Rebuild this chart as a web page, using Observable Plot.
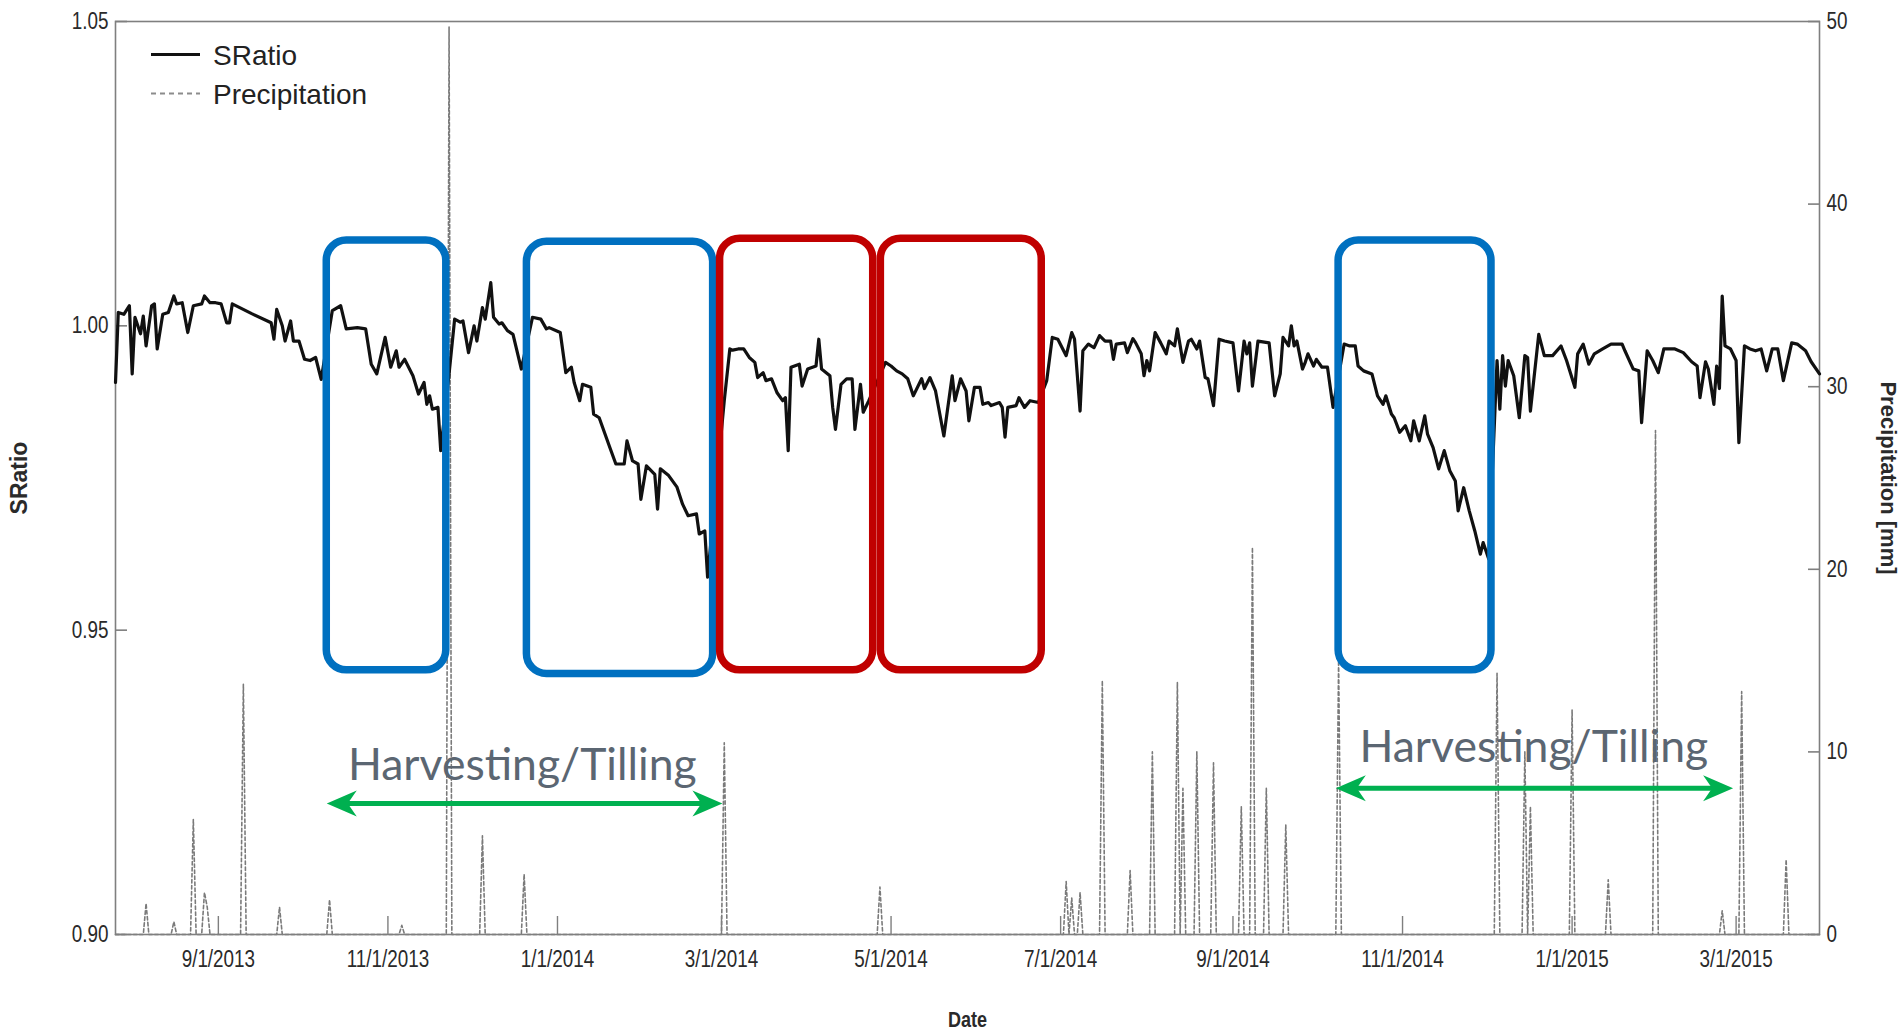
<!DOCTYPE html>
<html><head><meta charset="utf-8">
<script src="https://cdn.jsdelivr.net/npm/d3@7"></script>
<script src="https://cdn.jsdelivr.net/npm/@observablehq/plot@0.6"></script>
<style>
html,body{margin:0;padding:0;background:#fff;}
#chart{width:1903px;height:1031px;}
</style></head><body><div id="chart"></div>
<script>
// ---------- data ----------
const xStart = "2013-07-26", xEnd = "2015-03-31";
const sratioDates = [
"2013-07-26","2013-07-27","2013-07-29","2013-07-31","2013-08-01","2013-08-02","2013-08-04","2013-08-05","2013-08-06","2013-08-08",
"2013-08-09","2013-08-10","2013-08-12","2013-08-14","2013-08-16","2013-08-17","2013-08-19","2013-08-21","2013-08-23","2013-08-26",
"2013-08-27","2013-08-29","2013-08-31","2013-09-02","2013-09-04","2013-09-05","2013-09-06","2013-09-13","2013-09-20","2013-09-21",
"2013-09-22","2013-09-24","2013-09-25","2013-09-27","2013-09-28","2013-09-30","2013-10-02","2013-10-04","2013-10-06","2013-10-08",
"2013-10-12","2013-10-15","2013-10-17","2013-10-21","2013-10-24","2013-10-26","2013-10-28","2013-10-31","2013-11-02","2013-11-04",
"2013-11-05","2013-11-07","2013-11-10","2013-11-12","2013-11-14","2013-11-15","2013-11-16","2013-11-17","2013-11-19","2013-11-20",
"2013-11-23","2013-11-25","2013-11-27","2013-11-28","2013-11-30","2013-12-02","2013-12-03","2013-12-05","2013-12-06","2013-12-08",
"2013-12-09","2013-12-11","2013-12-12","2013-12-14","2013-12-16","2013-12-19","2013-12-23","2013-12-26","2013-12-28","2013-12-29",
"2014-01-02","2014-01-04","2014-01-06","2014-01-07","2014-01-09","2014-01-10","2014-01-13","2014-01-14","2014-01-16","2014-01-20",
"2014-01-22","2014-01-25","2014-01-26","2014-01-28","2014-01-30","2014-01-31","2014-02-02","2014-02-05","2014-02-06","2014-02-07",
"2014-02-10","2014-02-13","2014-02-15","2014-02-17","2014-02-20","2014-02-21","2014-02-23","2014-02-24","2014-03-02","2014-03-04",
"2014-03-05","2014-03-07","2014-03-09","2014-03-11","2014-03-13","2014-03-14","2014-03-16","2014-03-17","2014-03-19","2014-03-21",
"2014-03-23","2014-03-24","2014-03-25","2014-03-26","2014-03-29","2014-03-30","2014-04-01","2014-04-04","2014-04-05","2014-04-06",
"2014-04-09","2014-04-10","2014-04-11","2014-04-13","2014-04-15","2014-04-17","2014-04-18","2014-04-20","2014-04-21","2014-04-23",
"2014-04-29","2014-05-01","2014-05-03","2014-05-05","2014-05-07","2014-05-09","2014-05-12","2014-05-13","2014-05-15","2014-05-17",
"2014-05-20","2014-05-23","2014-05-24","2014-05-26","2014-05-28","2014-05-29","2014-05-31","2014-06-02","2014-06-03","2014-06-05",
"2014-06-06","2014-06-09","2014-06-10","2014-06-11","2014-06-12","2014-06-15","2014-06-16","2014-06-18","2014-06-20","2014-06-23",
"2014-06-26","2014-06-28","2014-06-30","2014-07-03","2014-07-05","2014-07-06","2014-07-08","2014-07-09","2014-07-11","2014-07-13",
"2014-07-15","2014-07-17","2014-07-19","2014-07-20","2014-07-21","2014-07-24","2014-07-25","2014-07-27","2014-07-28","2014-07-30",
"2014-07-31","2014-08-01","2014-08-02","2014-08-04","2014-08-06","2014-08-08","2014-08-09","2014-08-11","2014-08-12","2014-08-14",
"2014-08-16","2014-08-17","2014-08-19","2014-08-20","2014-08-22","2014-08-23","2014-08-25","2014-08-27","2014-08-29","2014-09-01",
"2014-09-03","2014-09-05","2014-09-06","2014-09-07","2014-09-08","2014-09-10","2014-09-14","2014-09-16","2014-09-18","2014-09-19",
"2014-09-21","2014-09-22","2014-09-23","2014-09-24","2014-09-26","2014-09-27","2014-09-28","2014-09-30","2014-10-01","2014-10-03",
"2014-10-05","2014-10-07","2014-10-11","2014-10-13","2014-10-15","2014-10-16","2014-10-18","2014-10-21","2014-10-23","2014-10-25",
"2014-10-26","2014-10-28","2014-10-29","2014-10-31","2014-11-02","2014-11-04","2014-11-05","2014-11-07","2014-11-09","2014-11-10",
"2014-11-12","2014-11-14","2014-11-16","2014-11-18","2014-11-20","2014-11-21","2014-11-23","2014-11-25","2014-11-27","2014-11-29",
"2014-11-30","2014-12-02","2014-12-05","2014-12-06","2014-12-07","2014-12-08","2014-12-09","2014-12-11","2014-12-13","2014-12-15",
"2014-12-16","2014-12-17","2014-12-20","2014-12-22","2014-12-25","2014-12-28","2014-12-30","2015-01-02","2015-01-03","2015-01-05",
"2015-01-07","2015-01-09","2015-01-12","2015-01-15","2015-01-19","2015-01-20","2015-01-23","2015-01-25","2015-01-26","2015-01-28",
"2015-01-30","2015-02-01","2015-02-03","2015-02-07","2015-02-10","2015-02-13","2015-02-15","2015-02-16","2015-02-18","2015-02-19",
"2015-02-21","2015-02-22","2015-02-23","2015-02-24","2015-02-25","2015-02-27","2015-03-01","2015-03-02","2015-03-04","2015-03-06",
"2015-03-08","2015-03-10","2015-03-12","2015-03-14","2015-03-16","2015-03-18","2015-03-21","2015-03-23","2015-03-26","2015-03-28",
"2015-03-31"];
const sratioValues = [
0.9907,1.0022,1.0019,1.0033,0.9921,1.0014,0.9987,1.0016,0.9967,1.0033,
1.0036,0.9962,1.0019,1.0022,1.0049,1.0036,1.0038,0.9989,1.0033,1.0036,
1.0049,1.0038,1.0038,1.0036,1.0005,1.0005,1.0036,1.0020,1.0005,0.9978,
1.0027,1.0000,0.9975,1.0008,0.9975,0.9975,0.9945,0.9943,0.9948,0.9912,
1.0025,1.0033,0.9995,0.9997,0.9995,0.9937,0.9921,0.9981,0.9932,0.9959,
0.9932,0.9945,0.9918,0.9888,0.9907,0.9871,0.9885,0.9863,0.9866,0.9795,
0.9921,1.0011,1.0006,1.0008,0.9956,1.0000,0.9975,1.0030,1.0011,1.0071,
1.0014,1.0003,1.0005,0.9992,0.9986,0.9929,1.0014,1.0011,0.9995,0.9997,
0.9989,0.9923,0.9932,0.9907,0.9877,0.9904,0.9899,0.9855,0.9849,0.9798,
0.9773,0.9773,0.9811,0.9778,0.9773,0.9715,0.9770,0.9756,0.9699,0.9765,
0.9754,0.9735,0.9707,0.9688,0.9691,0.9658,0.9663,0.9587,0.9877,0.9962,
0.9960,0.9962,0.9962,0.9948,0.9940,0.9915,0.9923,0.9910,0.9913,0.9890,
0.9877,0.9882,0.9795,0.9932,0.9937,0.9901,0.9929,0.9934,0.9978,0.9929,
0.9918,0.9866,0.9830,0.9904,0.9913,0.9913,0.9830,0.9904,0.9858,0.9877,
0.9940,0.9934,0.9926,0.9921,0.9913,0.9885,0.9913,0.9897,0.9915,0.9893,
0.9819,0.9918,0.9877,0.9913,0.9893,0.9844,0.9899,0.9899,0.9871,0.9874,
0.9869,0.9874,0.9866,0.9817,0.9866,0.9869,0.9882,0.9866,0.9877,0.9874,
0.9910,0.9981,0.9978,0.9951,0.9989,0.9978,0.9860,0.9959,0.9970,0.9964,
0.9984,0.9975,0.9975,0.9945,0.9970,0.9972,0.9956,0.9979,0.9972,0.9954,
0.9918,0.9943,0.9926,0.9989,0.9972,0.9954,0.9975,0.9967,0.9995,0.9940,
0.9975,0.9978,0.9962,0.9975,0.9915,0.9913,0.9869,0.9978,0.9975,0.9972,
0.9893,0.9975,0.9954,0.9972,0.9901,0.9975,0.9972,0.9885,0.9921,0.9981,
0.9967,1.0000,0.9967,0.9975,0.9929,0.9940,0.9954,0.9934,0.9945,0.9932,
0.9932,0.9866,0.9970,0.9967,0.9967,0.9934,0.9926,0.9921,0.9885,0.9871,
0.9885,0.9855,0.9849,0.9825,0.9836,0.9811,0.9844,0.9811,0.9852,0.9822,
0.9800,0.9765,0.9795,0.9762,0.9745,0.9696,0.9734,0.9696,0.9663,0.9625,
0.9644,0.9617,0.9943,0.9863,0.9951,0.9901,0.9943,0.9918,0.9849,0.9951,
0.9948,0.9860,0.9986,0.9951,0.9951,0.9967,0.9943,0.9899,0.9954,0.9970,
0.9937,0.9954,0.9962,0.9970,0.9970,0.9959,0.9929,0.9926,0.9841,0.9959,
0.9943,0.9923,0.9962,0.9962,0.9956,0.9941,0.9934,0.9882,0.9941,0.9929,
0.9871,0.9934,0.9897,1.0049,0.9967,0.9962,0.9943,0.9808,0.9967,0.9962,
0.9959,0.9962,0.9926,0.9962,0.9962,0.9910,0.9972,0.9970,0.9959,0.9941,
0.9921];

// daily precipitation (mm); days not listed had no rain
const rainDates = [
"2013-08-06","2013-08-16","2013-08-23","2013-08-27","2013-08-28","2013-09-10","2013-09-23","2013-10-11","2013-11-06","2013-11-23",
"2013-12-05","2013-12-20","2014-03-02","2014-04-27","2014-07-03","2014-07-05","2014-07-08","2014-07-16","2014-07-26","2014-08-03",
"2014-08-12","2014-08-14","2014-08-19","2014-08-25","2014-09-04","2014-09-08","2014-09-13","2014-09-20","2014-10-09","2014-12-05",
"2014-12-15","2014-12-17","2015-01-01","2015-01-14","2015-01-31","2015-02-24","2015-03-03","2015-03-19"];
const rainMM = [
1.7,0.7,6.3,2.3,1.5,13.7,1.5,1.9,0.5,49.7,
5.4,3.3,10.5,2.6,2.9,2.0,2.3,13.9,3.5,10.0,
13.8,8.0,10.0,9.4,7.0,21.2,8.0,6.0,15.0,14.3,
10.0,7.0,12.3,3.0,27.6,1.3,13.3,4.1];

const xTickDates = ["2013-09-01","2013-11-01","2014-01-01","2014-03-01","2014-05-01","2014-07-01","2014-09-01","2014-11-01","2015-01-01","2015-03-01"];
const leftTicks = [0.90, 0.95, 1.00, 1.05];
const rightTicks = [0, 10, 20, 30, 40, 50];
const precipMax = 50;

// annotation boxes
const boxStart = ["2013-10-10","2013-12-21","2014-02-28T12:00Z","2014-04-27T08:00Z","2014-10-09"];
const boxEnd   = ["2013-11-22","2014-02-26","2014-04-24T14:00Z","2014-06-24T05:00Z","2014-12-03"];
const boxTop   = [1.0140, 1.0138, 1.0143, 1.0143, 1.0140];
const boxBottom= [0.9434, 0.9428, 0.9434, 0.9434, 0.9434];
const boxColor = ["#0070c0","#0070c0","#c00000","#c00000","#0070c0"];

// harvesting / tilling periods
const periodStart = ["2013-10-10","2014-10-08"];
const periodEnd   = ["2014-03-01T08:00Z","2015-02-27T22:00Z"];
const periodArrowY = [0.92151, 0.92404];
const periodLabel = ["Harvesting/Tilling","Harvesting/Tilling"];
const periodLabelX = ["2013-12-19T08:00Z","2014-12-18T05:00Z"];
const periodLabelY = [0.92545, 0.92841];

// ---------- build ----------
const P = s => new Date(s);
const yLo = leftTicks[0], yHi = leftTicks[leftTicks.length - 1];
const pToY = p => yLo + p * (yHi - yLo) / precipMax;
const sratio = sratioDates.map((d, i) => ({date: P(d), v: sratioValues[i]}));
const rainMap = new Map(rainDates.map((d, i) => [d, rainMM[i]]));
const fmtDay = d3.utcFormat("%Y-%m-%d");
const days = d3.utcDay.range(P(xStart), d3.utcDay.offset(P(xEnd), 1));
const rain = days.map(d => ({date: d, p: rainMap.get(fmtDay(d)) ?? 0}));
const boxes = boxStart.map((s, i) => ({x1: P(s), x2: P(boxEnd[i]), y1: boxBottom[i], y2: boxTop[i], c: boxColor[i]}));
const periods = periodStart.map((s, i) => ({x1: P(s), x2: P(periodEnd[i]), y: periodArrowY[i], label: periodLabel[i], lx: P(periodLabelX[i]), ly: periodLabelY[i]}));

const green = "#00b050";
const headLeft = {draw(ctx) { ctx.moveTo(0, 0); ctx.lineTo(30, -13); ctx.lineTo(21, 0); ctx.lineTo(30, 13); ctx.closePath(); }};
const headRight = {draw(ctx) { ctx.moveTo(0, 0); ctx.lineTo(-30, -13); ctx.lineTo(-21, 0); ctx.lineTo(-30, 13); ctx.closePath(); }};

const sans = "'Liberation Sans',Arial,sans-serif";
const mdY = d => `${d.getUTCMonth() + 1}/${d.getUTCDate()}/${d.getUTCFullYear()}`;

const chart = Plot.plot({
  width: 1903, height: 1031,
  marginLeft: 115, marginRight: 84, marginTop: 21, marginBottom: 97,
  style: {fontFamily: sans, background: "#fff", color: "#2a2a2a", overflow: "visible"},
  x: {type: "utc", domain: [P(xStart), P(xEnd)]},
  y: {domain: [yLo, yHi]},
  marks: [
    Plot.line(rain, {x: "date", y: d => pToY(d.p), stroke: "#7a7a7a", strokeWidth: 1.6, strokeDasharray: "3.5,2.5"}),
    Plot.frame({stroke: "#7f7f7f", strokeWidth: 1.6}),
    Plot.axisY(leftTicks, {anchor: "left", tickFormat: d3.format(".2f"), tickSize: -12, tickPadding: 19, fontSize: 23, label: null, stroke: "#7f7f7f", strokeWidth: 1.6}),
    Plot.axisY(rightTicks.map(pToY), {anchor: "right", tickFormat: d => String(Math.round((d - yLo) * precipMax / (yHi - yLo))), tickSize: -12, tickPadding: 19, fontSize: 23, label: null, stroke: "#7f7f7f", strokeWidth: 1.6}),
    Plot.axisX(xTickDates.map(P), {anchor: "bottom", tickFormat: mdY, tickSize: -18, tickPadding: 34, fontSize: 23, label: null, stroke: "#7f7f7f", strokeWidth: 1.4}),
    Plot.line(sratio, {x: "date", y: "v", stroke: "#111", strokeWidth: 3.2, strokeLinejoin: "round"}),
    Plot.rect(boxes, {x1: "x1", x2: "x2", y1: "y1", y2: "y2", stroke: "c", strokeWidth: 7.5, fill: "none", rx: 20}),
    Plot.ruleY(periods, {x1: "x1", x2: "x2", y: "y", stroke: green, strokeWidth: 5, insetLeft: 18, insetRight: 18}),
    Plot.dot(periods, {x: "x1", y: "y", symbol: headLeft, fill: green, stroke: "none"}),
    Plot.dot(periods, {x: "x2", y: "y", symbol: headRight, fill: green, stroke: "none"}),
    Plot.text(periods, {x: "lx", y: "ly", text: "label", fontFamily: "Lato, 'Open Sans', sans-serif", fontSize: 44.5, fill: "#5b6672", lineAnchor: "bottom", textAnchor: "middle"}),
    Plot.text(["SRatio"], {frameAnchor: "left", rotate: -90, dx: -96, textAnchor: "middle", lineAnchor: "middle", fontSize: 23, fontWeight: "bold", fill: "#2a2a2a"}),
    Plot.text(["Precipitation [mm]"], {frameAnchor: "right", rotate: 90, dx: 69, textAnchor: "middle", lineAnchor: "middle", fontSize: 22, fontWeight: "bold", fill: "#2a2a2a"}),
    Plot.text(["Date"], {frameAnchor: "bottom", dy: 85, textAnchor: "middle", lineAnchor: "middle", fontSize: 22, fontWeight: "bold", fill: "#2a2a2a", className: "narrow-title"})
  ]
});
document.getElementById("chart").appendChild(chart);

// condensed (narrow) look of the axis lettering, as in the source figure
function narrow(nodes, k) {
  nodes.each(function() {
    const x = +this.getAttribute("x") || 0, y = +this.getAttribute("y") || 0;
    const t = this.getAttribute("transform") || "";
    this.setAttribute("transform", `${t} translate(${x},${y}) scale(${k},1) translate(${-x},${-y})`);
  });
}
const svg = d3.select(chart);
narrow(svg.selectAll('g[aria-label="y-axis tick label"] text, g[aria-label="x-axis tick label"] text'), 0.82);
narrow(svg.selectAll('.narrow-title text'), 0.82);

// legend inside the frame (top-left)
const lg = svg.append("g").attr("font-family", sans).attr("font-size", 28).attr("fill", "#222").attr("text-anchor", "start");
lg.append("line").attr("x1", 151).attr("x2", 200).attr("y1", 54.5).attr("y2", 54.5).attr("stroke", "#111").attr("stroke-width", 3.2);
lg.append("text").attr("x", 213).attr("y", 65).text("SRatio");
lg.append("line").attr("x1", 151).attr("x2", 200).attr("y1", 93.5).attr("y2", 93.5).attr("stroke", "#8c8c8c").attr("stroke-width", 1.8).attr("stroke-dasharray", "5,4");
lg.append("text").attr("x", 213).attr("y", 103.5).text("Precipitation");
</script></body></html>
